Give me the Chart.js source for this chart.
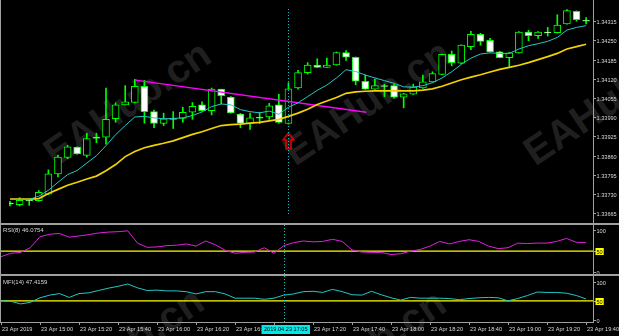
<!DOCTYPE html>
<html>
<head>
<meta charset="utf-8">
<script src="https://cdn.jsdelivr.net/npm/chart.js@4.4.1/dist/chart.umd.min.js"></script>
<style>
html,body{margin:0;padding:0;background:#000;}
body{position:relative;width:619px;height:336px;overflow:hidden;}
.wm{position:absolute;font:bold 40px "Liberation Sans",Arial,sans-serif;color:#1f1f1f;white-space:nowrap;transform:translate(-50%,-50%) rotate(-34deg);}
canvas{position:absolute;left:0;}
.frame{position:absolute;background:#a0a0a0;}
</style>
</head>
<body>
<div class="wm" style="left:127px;top:103px">EAHub.cn</div>
<div class="wm" style="left:367px;top:102px">EAHub.cn</div>
<div class="wm" style="left:607px;top:102px">EAHub.cn</div>
<div class="wm" style="left:120px;top:350px">EAHub.cn</div>
<div class="wm" style="left:362px;top:352px">EAHub.cn</div>
<canvas id="cMain" width="619" height="223" style="top:0"></canvas>
<canvas id="cRsi" width="619" height="49" style="top:225px"></canvas>
<canvas id="cMfi" width="619" height="60" style="top:276px"></canvas>
<div class="frame" style="left:0;top:223px;width:619px;height:2px"></div>
<div class="frame" style="left:0;top:274px;width:619px;height:2px"></div>
<div class="frame" style="left:0;top:0;width:1px;height:322px"></div>
<div class="frame" style="left:593px;top:0;width:1px;height:322px"></div>
<div class="frame" style="left:0;top:322px;width:594px;height:1px"></div>
<script>
// ---------- DATA ----------
const times = ['14:40','14:45','14:50','14:55',
'15:00','15:05','15:10','15:15','15:20','15:25','15:30','15:35','15:40','15:45','15:50','15:55',
'16:00','16:05','16:10','16:15','16:20','16:25','16:30','16:35','16:40','16:45','16:50','16:55',
'17:00','17:05','17:10','17:15','17:20','17:25','17:30','17:35','17:40','17:45','17:50','17:55',
'18:00','18:05','18:10','18:15','18:20','18:25','18:30','18:35','18:40','18:45','18:50','18:55',
'19:00','19:05','19:10','19:15','19:20','19:25','19:30','19:35','19:40'];

const opens = [1.33700,1.33694,1.33711,1.33708,1.33730,1.33798,1.33854,1.33889,1.33861,1.33922,
1.33923,1.33985,1.34032,1.34040,1.34095,1.34009,1.33969,1.33986,1.33986,1.34007,
1.34032,1.34012,1.34085,1.34058,1.34001,1.33969,1.33990,1.33991,1.34032,1.33969,
1.34089,1.34141,1.34167,1.34159,1.34167,1.34209,1.34193,1.34112,1.34085,1.34097,
1.34097,1.34058,1.34068,1.34089,1.34110,1.34135,1.34203,1.34173,1.34229,1.34271,
1.34250,1.34211,1.34192,1.34208,1.34278,1.34266,1.34278,1.34276,1.34306,1.34348,
1.34318];
const highs = [1.33706,1.33718,1.33714,1.33742,1.33812,1.33862,1.33895,1.33890,1.33936,1.33936,
1.34089,1.34039,1.34097,1.34118,1.34115,1.34014,1.34004,1.34009,1.34024,1.34040,
1.34042,1.34089,1.34085,1.34060,1.34003,1.34004,1.34007,1.34037,1.34068,1.34107,
1.34149,1.34175,1.34188,1.34190,1.34211,1.34216,1.34194,1.34133,1.34118,1.34102,
1.34102,1.34071,1.34102,1.34133,1.34144,1.34204,1.34214,1.34235,1.34281,1.34274,
1.34257,1.34213,1.34209,1.34280,1.34284,1.34280,1.34294,1.34337,1.34354,1.34350,
1.34327];
const lows = [1.33690,1.33690,1.33692,1.33706,1.33728,1.33788,1.33850,1.33865,1.33855,1.33904,
1.33899,1.33973,1.34031,1.34039,1.33970,1.33955,1.33962,1.33952,1.33973,1.33983,
1.34011,1.33998,1.34035,1.34004,1.33955,1.33949,1.33969,1.33983,1.33970,1.33967,
1.34085,1.34136,1.34158,1.34158,1.34166,1.34182,1.34100,1.34084,1.34084,1.34060,
1.34055,1.34022,1.34067,1.34088,1.34109,1.34134,1.34164,1.34171,1.34219,1.34234,
1.34210,1.34191,1.34160,1.34207,1.34249,1.34257,1.34265,1.34275,1.34305,1.34315,
1.34306];
const closes = [1.33697,1.33709,1.33708,1.33736,1.33799,1.33855,1.33890,1.33866,1.33918,1.33919,
1.33983,1.34032,1.34042,1.34095,1.34009,1.33969,1.33985,1.33983,1.34007,1.34027,
1.34012,1.34085,1.34063,1.34005,1.33969,1.33988,1.33987,1.34029,1.33973,1.34086,
1.34141,1.34167,1.34159,1.34167,1.34209,1.34193,1.34112,1.34085,1.34097,1.34094,
1.34058,1.34069,1.34092,1.34110,1.34138,1.34203,1.34175,1.34234,1.34271,1.34247,
1.34211,1.34192,1.34208,1.34278,1.34266,1.34278,1.34275,1.34302,1.34351,1.34320,
1.34315];
const maFast = [1.33712,1.33712,1.33712,1.33723,1.33743,1.33770,1.33796,1.33810,1.33835,1.33860,
1.33894,1.33931,1.33962,1.33991,1.33993,1.33988,1.33985,1.33986,1.33988,1.33996,
1.34008,1.34026,1.34035,1.34032,1.34016,1.34009,1.34005,1.34011,1.34000,1.34024,
1.34039,1.34060,1.34081,1.34099,1.34123,1.34151,1.34145,1.34133,1.34123,1.34114,
1.34105,1.34093,1.34092,1.34097,1.34107,1.34123,1.34144,1.34169,1.34190,1.34204,
1.34208,1.34206,1.34206,1.34221,1.34232,1.34239,1.34247,1.34260,1.34285,1.34294,
1.34300];
const maSlow = [1.33713,1.33713,1.33713,1.33715,1.33732,1.33746,1.33760,1.33770,1.33781,1.33791,
1.33809,1.33830,1.33857,1.33874,1.33887,1.33895,1.33902,1.33910,1.33921,1.33932,
1.33941,1.33952,1.33962,1.33965,1.33967,1.33970,1.33973,1.33978,1.33983,1.33993,
1.34004,1.34017,1.34033,1.34045,1.34057,1.34071,1.34076,1.34078,1.34079,1.34079,
1.34080,1.34079,1.34079,1.34082,1.34086,1.34095,1.34106,1.34117,1.34126,1.34134,
1.34143,1.34152,1.34159,1.34166,1.34175,1.34185,1.34195,1.34206,1.34221,1.34229,
1.34237];
const rsi = [37,45,47,58,84,90,92,83,86,89,
93,95,96,98,69,59,60,63,64,67,
62,74,65,52,45,47,48,58,45,63,
70,74,72,73,78,73,53,48,47,47,
42,44,50,54,62,73,67,73,77,73,
62,56,58,69,68,69,69,73,80,71,
70];
const mfi = [50,49,42,46,58,65,69,59,69,71,
77,83,88,94,84,77,78,76,76,74,
68,74,74,68,57,57,57,54,57,65,
68,74,75,72,80,74,66,65,75,66,
58,52,59,57,57,57,56,53,56,58,
59,58,50,56,64,73,72,72,70,64,
55];
const trendIdx = [13.05, 37.1];
const trendPrice = [1.34116, 1.34007];
const signalIdx = [29];
const signalPrice = [1.33910];
const priceTicks = [1.34315,1.34250,1.34185,1.34120,1.34055,1.33990,1.33925,1.33860,1.33795,1.33730,1.33665];
const oscTicks = [100, 50, 0];
const oscLevels = [50];
const timeTickIdx = [0,4,8,12,16,20,24,28,32,36,40,44,48,52,56,60];
const timeTickLabels = ['23 Apr 2019','23 Apr 15:00','23 Apr 15:20','23 Apr 15:40','23 Apr 16:00','23 Apr 16:20','23 Apr 16:40','23 Apr 17:00','23 Apr 17:20','23 Apr 17:40','23 Apr 18:00','23 Apr 18:20','23 Apr 18:40','23 Apr 19:00','23 Apr 19:20','23 Apr 19:40'];
const cursorIdx = 29;
const cursorLabel = '2019.04.23 17:05';
const rsiTitle = 'RSI(8) 46.0754';
const mfiTitle = 'MFI(14) 47.4159';

// ---------- LAYOUT ----------
const XMIN = -1/9.75, XMAX = XMIN + 593/9.75;
const FONT = '5.6px "Liberation Sans", Arial, sans-serif';
const TXT = '#d8d8d8';

const arrowImg = document.createElement('canvas');
arrowImg.width = 13; arrowImg.height = 18;
(function(){const c = arrowImg.getContext('2d');
c.strokeStyle = '#e00000'; c.lineWidth = 1.6;
c.beginPath(); c.moveTo(6.5,1); c.lineTo(12,8); c.lineTo(9,8); c.lineTo(9,17); c.lineTo(4,17); c.lineTo(4,8); c.lineTo(1,8); c.closePath(); c.stroke();})();

const mtPlugin = {
  id: 'mt',
  afterDraw(chart, args, o) {
    const ctx = chart.ctx, xs = chart.scales.x, ys = chart.scales.y, a = chart.chartArea;
    ctx.save();
    const cx = Math.round(xs.getPixelForValue(cursorIdx)) + 0.5;
    ctx.strokeStyle = '#00c8c8'; ctx.lineWidth = 1; ctx.setLineDash([1, 2]);
    ctx.beginPath(); ctx.moveTo(cx, a.top); ctx.lineTo(cx, a.bottom); ctx.stroke();
    ctx.setLineDash([]);
    ctx.font = FONT; ctx.textBaseline = 'middle'; ctx.textAlign = 'left';
    for (const t of o.ticks) {
      const y = Math.round(ys.getPixelForValue(t)) + 0.5;
      ctx.strokeStyle = '#a0a0a0';
      ctx.beginPath(); ctx.moveTo(a.right, y); ctx.lineTo(a.right + 3, y); ctx.stroke();
      const s = o.decimals ? t.toFixed(o.decimals) : String(t);
      if (o.highlight && o.highlight.includes(t)) {
        const w = ctx.measureText(s).width;
        ctx.fillStyle = '#ffff00'; ctx.fillRect(a.right + 2.5, y - 3.5, w + 2, 7);
        ctx.fillStyle = '#000';
      } else ctx.fillStyle = TXT;
      ctx.fillText(s, a.right + 3.5, y + 0.5);
    }
    if (o.title) {
      ctx.font = '6px "Liberation Sans", Arial, sans-serif';
      ctx.fillStyle = TXT; ctx.fillText(o.title, 3, a.top + o.titleY);
    }
    if (o.timeAxis) {
      ctx.font = FONT; ctx.textBaseline = 'middle';
      timeTickIdx.forEach((idx, k) => {
        const x = Math.round(xs.getPixelForValue(idx)) + 0.5;
        ctx.strokeStyle = '#a0a0a0';
        ctx.beginPath(); ctx.moveTo(x, a.bottom); ctx.lineTo(x, a.bottom + 3); ctx.stroke();
        ctx.fillStyle = TXT; ctx.fillText(timeTickLabels[k], x + 0.5, a.bottom + 7.5);
      });
      const w = ctx.measureText(cursorLabel).width;
      const bx = cx - 23;
      ctx.fillStyle = '#00e8e8'; ctx.fillRect(bx, a.bottom + 3, w + 5, 9);
      ctx.fillStyle = '#000'; ctx.fillText(cursorLabel, bx + 2.5, a.bottom + 7.5);
    }
    ctx.restore();
  }
};

const baseOpts = (ymin, ymax, padBottom, pluginOpts) => ({
  responsive: false, animation: false, devicePixelRatio: 1,
  layout: {padding: {left: 0, right: 26, top: 0, bottom: padBottom}},
  plugins: {legend: {display: false}, tooltip: {enabled: false}, mt: pluginOpts},
  scales: {
    x: {type: 'linear', display: false, min: XMIN, max: XMAX, offset: false},
    y: {type: 'linear', display: false, min: ymin, max: ymax}
  }
});

const pts = arr => arr.map((v, i) => ({x: i, y: v}));

new Chart(document.getElementById('cMain'), {
  type: 'bar',
  data: {datasets: [
    {type: 'line', label: 'MA fast', data: pts(maFast), borderColor: '#26c6c6', borderWidth: 1, pointRadius: 0, order: 0},
    {type: 'line', label: 'MA slow', data: pts(maSlow), borderColor: '#f2d200', borderWidth: 1.7, pointRadius: 0, order: 0},
    {type: 'line', label: 'Trend', data: trendIdx.map((x, k) => ({x, y: trendPrice[k]})), borderColor: '#ff00ff', borderWidth: 1.3, pointRadius: 0, order: 0},
    {type: 'scatter', label: 'Signal', data: signalIdx.map((x, k) => ({x, y: signalPrice[k]})), pointStyle: arrowImg, pointRadius: 8, order: 0},
    {type: 'bar', label: 'Body', data: opens.map((o, i) => ({x: i, y: [o, closes[i]]})),
      backgroundColor: opens.map((o, i) => closes[i] >= o ? '#000000' : '#ffffff'),
      borderColor: '#00ff00', borderWidth: 1, borderSkipped: false, barThickness: 7, grouped: false, order: 1},
    {type: 'bar', label: 'Wick', data: lows.map((l, i) => ({x: i, y: [l, highs[i]]})),
      backgroundColor: '#00ff00', borderWidth: 0, barThickness: 1, grouped: false, order: 2}
  ]},
  options: baseOpts(1.343563 - 223 * 0.0000311, 1.343563, 0, {ticks: priceTicks, decimals: 5}),
  plugins: [mtPlugin]
});

new Chart(document.getElementById('cRsi'), {
  type: 'line',
  data: {datasets: [
    {label: 'RSI', data: pts(rsi), borderColor: '#e020e0', borderWidth: 1, pointRadius: 0, order: 0},
    {label: 'Level', data: [{x: XMIN, y: oscLevels[0]}, {x: XMAX, y: oscLevels[0]}], borderColor: '#ffff00', borderWidth: 1.2, pointRadius: 0, order: 1}
  ]},
  options: baseOpts(-4.0, 111.8, 0, {ticks: oscTicks, highlight: oscLevels, title: rsiTitle, titleY: 5.5}),
  plugins: [mtPlugin]
});

new Chart(document.getElementById('cMfi'), {
  type: 'line',
  data: {datasets: [
    {label: 'MFI', data: pts(mfi), borderColor: '#20c8c8', borderWidth: 1, pointRadius: 0, order: 0},
    {label: 'Level', data: [{x: XMIN, y: oscLevels[0]}, {x: XMAX, y: oscLevels[0]}], borderColor: '#ffff00', borderWidth: 1.2, pointRadius: 0, order: 1}
  ]},
  options: baseOpts(-5.2, 114.9, 14, {ticks: oscTicks, highlight: oscLevels, title: mfiTitle, titleY: 6.5, timeAxis: true}),
  plugins: [mtPlugin]
});
</script>
</body>
</html>
